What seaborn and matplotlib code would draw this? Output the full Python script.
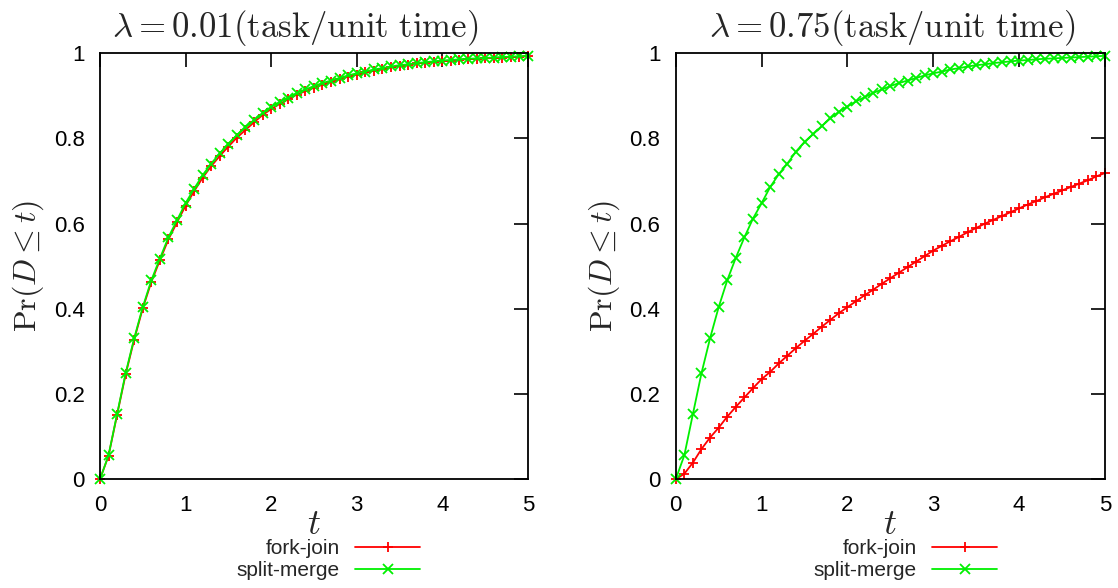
import matplotlib
matplotlib.use('Agg')
import matplotlib.pyplot as plt
import seaborn as sns

# time grid (one marker every 0.1 unit)
t_vals = [round(0.1 * i, 1) for i in range(51)]

# lambda = 0.01
fj_low = [0.000, 0.055, 0.151, 0.246, 0.328, 0.401, 0.463, 0.514, 0.563, 0.603,
          0.642, 0.676, 0.708, 0.735, 0.759, 0.781, 0.802, 0.820, 0.838, 0.855,
          0.869, 0.881, 0.892, 0.903, 0.911, 0.919, 0.926, 0.933, 0.939, 0.945,
          0.950, 0.955, 0.959, 0.963, 0.967, 0.970, 0.973, 0.976, 0.978, 0.980,
          0.982, 0.983, 0.985, 0.986, 0.987, 0.988, 0.989, 0.990, 0.991, 0.992,
          0.993]
sm_low = [0.000, 0.056, 0.153, 0.249, 0.331, 0.404, 0.467, 0.518, 0.568, 0.608,
          0.648, 0.682, 0.714, 0.741, 0.765, 0.787, 0.808, 0.826, 0.843, 0.860,
          0.874, 0.886, 0.896, 0.907, 0.915, 0.923, 0.930, 0.936, 0.942, 0.948,
          0.953, 0.957, 0.962, 0.965, 0.969, 0.972, 0.974, 0.977, 0.979, 0.981,
          0.983, 0.984, 0.986, 0.987, 0.988, 0.989, 0.990, 0.991, 0.992, 0.993,
          0.994]

# lambda = 0.75
fj_high = [0.000, 0.013, 0.039, 0.071, 0.098, 0.121, 0.147, 0.170, 0.192, 0.214,
           0.235, 0.252, 0.272, 0.290, 0.308, 0.325, 0.341, 0.358, 0.374, 0.390,
           0.404, 0.418, 0.432, 0.445, 0.459, 0.472, 0.485, 0.498, 0.511, 0.524,
           0.537, 0.548, 0.559, 0.569, 0.580, 0.590, 0.600, 0.609, 0.618, 0.627,
           0.636, 0.645, 0.653, 0.662, 0.670, 0.678, 0.686, 0.694, 0.702, 0.711,
           0.719]
sm_high = [0.000, 0.056, 0.153, 0.249, 0.331, 0.404, 0.467, 0.520, 0.568, 0.612,
           0.648, 0.686, 0.716, 0.741, 0.769, 0.792, 0.810, 0.829, 0.847, 0.863,
           0.875, 0.887, 0.897, 0.907, 0.915, 0.923, 0.930, 0.936, 0.942, 0.948,
           0.953, 0.957, 0.962, 0.965, 0.969, 0.972, 0.974, 0.977, 0.979, 0.981,
           0.983, 0.984, 0.986, 0.987, 0.988, 0.989, 0.990, 0.991, 0.992, 0.993,
           0.994]

titles = [r'$\lambda = 0.01(\mathrm{task/unit\ time})$',
          r'$\lambda = 0.75(\mathrm{task/unit\ time})$']
panels = [(fj_low, sm_low), (fj_high, sm_high)]
red = '#ff0000'
green = '#00f000'

sns.set_style('white')
plt.rcParams['font.family'] = ['Liberation Sans', 'DejaVu Sans']
plt.rcParams['mathtext.fontset'] = 'cm'

fig = plt.figure(figsize=(11.18, 5.88), dpi=100)
ax_left = fig.add_axes([0.0894, 0.1849, 0.3828, 0.7245])
ax_right = fig.add_axes([0.6044, 0.1849, 0.3840, 0.7245])
title_x = [0.456, 0.504]

for i, ax in enumerate([ax_left, ax_right]):
    fj, sm = panels[i]
    # seaborn defaults to white marker edges, so set the edge colour explicitly
    sns.lineplot(x=t_vals, y=fj, ax=ax, color=red, marker='+', markersize=7,
                 markeredgecolor=red, markeredgewidth=1.3, linewidth=1.3,
                 label='fork-join', clip_on=False)
    sns.lineplot(x=t_vals, y=sm, ax=ax, color=green, marker='x', markersize=7,
                 markeredgecolor=green, markeredgewidth=1.3, linewidth=1.3,
                 label='split-merge', clip_on=False)
    ax.set_xlim(0, 5)
    ax.set_ylim(0, 1)
    ax.set_xticks([0, 1, 2, 3, 4, 5])
    ax.set_xticklabels(['0', '1', '2', '3', '4', '5'])
    ax.set_yticks([0, 0.2, 0.4, 0.6, 0.8, 1])
    ax.set_yticklabels(['0', '0.2', '0.4', '0.6', '0.8', '1'])
    ax.tick_params(direction='in', length=10, width=1.2, labelsize=16, pad=11,
                   top=True, right=True, colors='black')
    for s in ax.spines.values():
        s.set_visible(True)
        s.set_color('black')
        s.set_linewidth(1.3)
    ax.set_xlabel(r'$t$', fontsize=26)
    ax.xaxis.set_label_coords(0.5, -0.065)
    ax.set_ylabel(r'$\Pr(D \leq t)$', fontsize=23)
    ax.yaxis.set_label_coords(-0.125, 0.5)
    ax.text(title_x[i], 1.038, titles[i], transform=ax.transAxes, ha='center',
            va='baseline', fontsize=25)
    ax.legend(loc='upper right', bbox_to_anchor=(0.748, -0.141), frameon=False,
              fontsize=15, markerfirst=False, handlelength=3.1, handletextpad=0.75,
              labelspacing=0.15, borderpad=0, borderaxespad=0)

fig.savefig('out.png', dpi=100)
